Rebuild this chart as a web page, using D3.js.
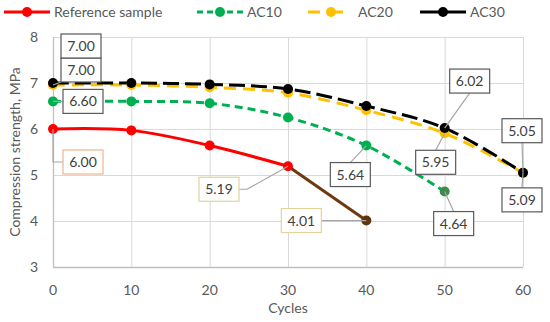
<!DOCTYPE html>
<html lang="en">
<head>
<meta charset="UTF-8">
<title>Compression strength</title>
<style>
    body { margin: 0; background: #fff; }
    svg { display: block; font-family: Lato, "Open Sans", sans-serif; }
    .grid line { stroke: #d9d9d9; stroke-width: 1; }
    .tick-label { fill: #595959; font-size: 14px; }
    .title { fill: #595959; font-size: 14px; }
    .lbl text { fill: #404040; font-size: 14px; }
</style>
</head>
<body>
<script src="https://d3js.org/d3.v7.min.js"></script>
<script>

var cycles = [0, 10, 20, 30, 40, 50, 60];
var refValues  = [6.00, 5.97, 5.64, 5.19, 4.01];
var ac10Values = [6.60, 6.60, 6.56, 6.25, 5.64, 4.64];
var ac20Values = [7.00, 7.00, 6.95, 6.83, 6.45, 5.95, 5.09];
var ac30Values = [7.00, 7.00, 6.97, 6.87, 6.50, 6.02, 5.05];
var seriesNames = ["Reference sample", "AC10", "AC20", "AC30"];
var xTicks = [0, 10, 20, 30, 40, 50, 60];
var yTicks = [3, 4, 5, 6, 7, 8];

// which points carry a data label, and where the label box sits (pixels from the point)
var refLabels  = [{i: 0, dx: 30, dy: 33, lead: "h"}, {i: 3, dx: -69, dy: 23, lead: "h"}, {i: 4, dx: -65, dy: 0, lead: "h"}];
var ac10Labels = [{i: 0, dx: 30, dy: 0, lead: "h"}, {i: 4, dx: -16, dy: 29, lead: "v"}, {i: 5, dx: 9, dy: 32, lead: "v"}];
var ac20Labels = [{i: 0, dx: 28, dy: -15, lead: "c"}, {i: 5, dx: -9, dy: 29, lead: "v"}, {i: 6, dx: -1, dy: 27, lead: "v"}];
var ac30Labels = [{i: 0, dx: 28, dy: -37, lead: "none"}, {i: 5, dx: 25, dy: -47, lead: "v"}, {i: 6, dx: -1, dy: -42, lead: "v"}];

var W = 550, H = 322;
var margin = {top: 37, right: 27, bottom: 55, left: 53};

var svg = d3.select("body").append("svg")
    .attr("width", W)
    .attr("height", H);

var x = d3.scaleLinear().domain([0, 60]).range([margin.left, W - margin.right]);
var y = d3.scaleLinear().domain([3, 8]).range([H - margin.bottom, margin.top]);

// grid
var grid = svg.append("g").attr("class", "grid");
grid.selectAll(".gx").data(xTicks).enter().append("line")
    .attr("x1", d => x(d) + 0.5).attr("x2", d => x(d) + 0.5)
    .attr("y1", y(8)).attr("y2", y(3));
grid.selectAll(".gy").data(yTicks).enter().append("line")
    .attr("x1", x(0)).attr("x2", x(60))
    .attr("y1", d => y(d) + 0.5).attr("y2", d => y(d) + 0.5);

// axis lines
svg.append("line").attr("x1", x(0)).attr("x2", x(60)).attr("y1", y(3) + 0.5).attr("y2", y(3) + 0.5)
    .attr("stroke", "#bfbfbf").attr("stroke-width", 1.3);
svg.append("line").attr("x1", x(0) + 0.5).attr("x2", x(0) + 0.5).attr("y1", y(8)).attr("y2", y(3))
    .attr("stroke", "#bfbfbf").attr("stroke-width", 1.3);

// tick labels
svg.selectAll(".xt").data(xTicks).enter().append("text")
    .attr("class", "tick-label")
    .attr("x", d => x(d)).attr("y", y(3) + 23)
    .attr("dy", "0.35em").attr("text-anchor", "middle")
    .text(d => d);
svg.selectAll(".yt").data(yTicks).enter().append("text")
    .attr("class", "tick-label")
    .attr("x", x(0) - 15).attr("y", d => y(d))
    .attr("dy", "0.35em").attr("text-anchor", "end")
    .text(d => d);

// axis titles
svg.append("text").attr("class", "title")
    .attr("x", (x(0) + x(60)) / 2).attr("y", 308)
    .attr("dy", "0.35em").attr("text-anchor", "middle")
    .text("Cycles");
svg.append("text").attr("class", "title")
    .attr("transform", "translate(15," + (y(3) + y(8)) / 2 + ") rotate(-90)")
    .attr("dy", "0.35em").attr("text-anchor", "middle")
    .text("Compression strength, MPa");

function pts(values) {
    return values.map((v, i) => [cycles[i], v]);
}

var line = d3.line()
    .x(d => x(d[0]))
    .y(d => y(d[1]))
    .curve(d3.curveCatmullRom.alpha(0.5));

var series = [
    {values: refValues, color: "#ff0000", dash: null, width: 3, labels: refLabels, border: "#f0b48c"},
    {values: ac10Values, color: "#00b050", dash: "8,5", width: 3, labels: ac10Labels, border: "#595959"},
    {values: ac20Values, color: "#ffc000", dash: "12,7", width: 3, labels: ac20Labels, border: "#595959"},
    {values: ac30Values, color: "#000000", dash: "16,6", width: 3, labels: ac30Labels, border: "#595959"}
];

// lines
series.forEach(function(s, k) {
    var p = pts(s.values);
    var off = k == 2 ? 2 : 0; // orange sits just under the black line
    if (k == 0) {
        svg.append("path").attr("d", line(p.slice(0, 4)))
            .attr("fill", "none").attr("stroke", s.color).attr("stroke-width", s.width);
        svg.append("path").attr("d", d3.line().x(d => x(d[0])).y(d => y(d[1]))(p.slice(3)))
            .attr("fill", "none").attr("stroke", "#6b3a0e").attr("stroke-width", s.width);
    } else {
        svg.append("path").attr("d", line(p))
            .attr("transform", "translate(0," + off + ")")
            .attr("fill", "none").attr("stroke", s.color).attr("stroke-width", s.width)
            .attr("stroke-dasharray", s.dash);
    }
});

// markers
series.forEach(function(s, k) {
    var p = pts(s.values);
    var off = k == 2 ? 2 : 0;
    svg.selectAll(null).data(p).enter().append("circle")
        .attr("cx", d => x(d[0])).attr("cy", d => y(d[1]) + off)
        .attr("r", 5)
        .attr("fill", (d, i) => {
            if (k == 0 && i == 4) return "#5e3510";
            if (k == 1 && i == 5) return "#3d8b4a";
            return s.color;
        });
});

// data labels
var bw = 40, bh = 24;
series.forEach(function(s, k) {
    var off = k == 2 ? 2 : 0;
    s.labels.forEach(function(l) {
        var v = s.values[l.i];
        var px = x(cycles[l.i]), py = y(v) + off;
        var cx = px + l.dx, cy = py + l.dy;
        var left = cx - bw / 2, right = cx + bw / 2, top = cy - bh / 2, bottom = cy + bh / 2;
        var g = svg.append("g").attr("class", "lbl");
        var lead = null;
        if (l.lead == "h") {
            var ex = px < left ? left : right;
            var stub = px < left ? ex - 8 : ex + 8;
            if (Math.abs(py - cy) < 3) lead = "M" + ex + "," + cy + "L" + px + "," + cy;
            else if (px < left && Math.abs(px - left) < 12) lead = "M" + ex + "," + cy + "L" + px + "," + cy + "L" + px + "," + py;
            else lead = "M" + ex + "," + cy + "L" + stub + "," + cy + "L" + px + "," + py;
        } else if (l.lead == "v") {
            var ey = py < top ? top : bottom;
            lead = "M" + cx + "," + ey + "L" + px + "," + py;
        } else if (l.lead == "c") {
            lead = "M" + Math.max(left, Math.min(px, right)) + "," + Math.max(top, Math.min(py, bottom)) + "L" + px + "," + py;
        }
        if (lead) g.append("path").attr("d", lead).attr("fill", "none")
            .attr("stroke", "#a6a6a6").attr("stroke-width", 1.2);
        var b = k == 0 && l.i > 0 ? "#e2d49a" : s.border;
        g.append("rect").attr("x", left).attr("y", top).attr("width", bw).attr("height", bh)
            .attr("fill", "#fff").attr("stroke", b).attr("stroke-width", 1.2);
        g.append("text").attr("x", cx).attr("y", cy).attr("dy", "0.36em")
            .attr("text-anchor", "middle").text(v.toFixed(2));
    });
});

// legend
var legendX = [4, 197, 308, 420];
var legend = svg.append("g").attr("transform", "translate(0,12)");
series.forEach(function(s, k) {
    var g = legend.append("g").attr("transform", "translate(" + legendX[k] + ",0)");
    g.append("line").attr("x1", 0).attr("x2", 46).attr("y1", 0).attr("y2", 0)
        .attr("stroke", s.color).attr("stroke-width", 3)
        .attr("stroke-dasharray", k == 1 ? "6,4" : k == 2 ? "12,11" : null);
    g.append("circle").attr("cx", 23).attr("cy", 0).attr("r", 5).attr("fill", s.color);
    g.append("text").attr("x", 50).attr("y", 0).attr("dy", "0.35em")
        .attr("fill", "#595959").attr("font-size", 14)
        .text(seriesNames[k]);
});

</script>
</body>
</html>
